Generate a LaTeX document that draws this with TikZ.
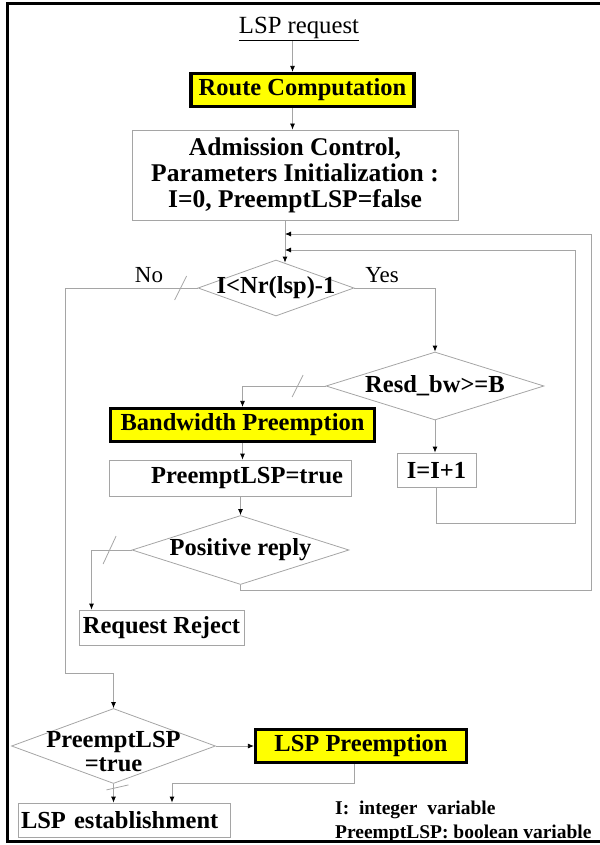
\documentclass[tikz,border=0pt]{standalone}
\usepackage{fontspec}
\setmainfont{Liberation Serif}
\usetikzlibrary{shapes.geometric,arrows.meta}
\definecolor{linegray}{RGB}{165,165,165}
\definecolor{hiyellow}{RGB}{255,255,0}
\begin{document}
\begin{tikzpicture}[
    x=1pt, y=-1pt,
    proc/.style={rectangle, draw=linegray, line width=0.8pt, inner sep=2pt, align=center, font=\bfseries\fontsize{24.5}{26}\selectfont},
    hilite/.style={rectangle, draw=black, fill=hiyellow, line width=3.2pt, inner sep=0pt, font=\bfseries\fontsize{24.5}{26}\selectfont},
    cond/.style={diamond, draw=linegray, line width=0.8pt, inner sep=0pt},
    condtext/.style={font=\bfseries\fontsize{24.5}{24}\selectfont, align=center},
    conn/.style={draw=linegray, line width=0.8pt, -{Latex[length=6pt,width=5pt,color=black]}},
    tick/.style={draw=linegray, line width=0.8pt}
  ]
  \useasboundingbox (0,0) rectangle (599,845);
  \draw[line width=3pt] (601,4) -- (7,4) -- (7,841) -- (601,841);

  \node[font=\fontsize{24.7}{26}\selectfont, inner sep=0pt] (req) at (299,29) {\underline{LSP request}};
  \node[hilite, minimum width=223, minimum height=33] (route) at (302.5,90) {Route Computation};
  \node[proc, minimum width=326, minimum height=90, font=\bfseries\fontsize{25.5}{26}\selectfont] (adm) at (295,175) {Admission Control,\\Parameters Initialization :\\I=0, PreemptLSP=false};
  \node[cond, minimum width=156, minimum height=56, label={[condtext]center:{I<Nr(lsp)-1}}] (d1) at (276,288) {};
  \node[font=\fontsize{23}{24}\selectfont] (no) at (149,275) {No};
  \node[font=\fontsize{23}{24}\selectfont] (yes) at (382,275) {Yes};
  \node[cond, minimum width=218, minimum height=68, label={[condtext]center:{Resd\_bw>=B}}] (d2) at (435,386) {};
  \node[hilite, minimum width=264, minimum height=33] (bw) at (242.5,425) {Bandwidth Preemption};
  \node[proc, minimum width=242, minimum height=36, text width=226pt, align=right] (flag) at (230,478) {PreemptLSP=true};
  \node[proc, minimum width=79, minimum height=34] (inc) at (436.5,470) {I=I+1};
  \node[cond, minimum width=217, minimum height=69, label={[condtext]center:{Positive reply}}] (pos) at (240.5,550) {};
  \node[proc, minimum width=165, minimum height=35] (rej) at (161.5,627.5) {Request Reject};
  \node[cond, minimum width=204, minimum height=75, label={[condtext, yshift=-6pt]center:{PreemptLSP\\=true}}] (d3) at (113.5,746) {};
  \node[hilite, minimum width=211, minimum height=33] (lsppre) at (361,746) {LSP Preemption};
  \node[proc, minimum width=212, minimum height=34, text width=206pt, align=left] (est) at (124,820) {LSP establishment};
  \node[anchor=north west, align=left, inner sep=0pt, font=\bfseries\fontsize{19.5}{24}\selectfont] (legend) at (335,801) {I:~ integer~ variable\\PreemptLSP: boolean variable};

  % junctions on the loop-back line
  \coordinate (j1) at (285,234);
  \coordinate (j2) at (285,250);

  \draw[conn] ([xshift=-10pt]route.north |- req.south) -- ([xshift=-10pt]route.north);
  \draw[conn] ([xshift=-10pt]route.south) -- ([xshift=-10pt]route.south |- adm.north);
  \draw[conn] (adm.south -| j1) -- ([xshift=9pt,yshift=-3pt]d1.north);
  \draw[conn] (d1.east) -| (d2.north);
  \draw[conn] (d1.west) -- ++(-132,0) |- ([yshift=35pt]d3.north) -- (d3.north);
  \draw[tick] ([xshift=-17pt]d1.west) ++(6,-12) -- ++(-12,24);
  \draw[conn] (d2.west) -| (bw.north);
  \draw[tick] ([xshift=-28pt]d2.west) ++(5.5,-11) -- ++(-11,22);
  \draw[conn] (d2.south) -- (d2.south |- inc.north);
  \draw[conn] (inc.south) -- ++(0,36) -| ([xshift=290pt]j2) -- (j2);
  \draw[conn] (bw.south) -- (bw.south |- flag.north);
  \draw[conn] (pos.north |- flag.south) -- (pos.north);
  \draw[conn] (pos.west) -| ([xshift=-70pt]rej.north);
  \draw[tick] ([xshift=-22pt]pos.west) ++(6.5,-14) -- ++(-13,28);
  \draw[conn] (pos.south) -- ++(0,5) -| ([xshift=306pt]j1) -- (j1);
  \draw[conn] (d3.east) -- (d3.east -| lsppre.west);
  \draw[conn] (d3.south) -- (d3.south |- est.north);
  \draw[tick] ([yshift=-4pt]d3.south) ++(-7,2) -- ++(22,-5);
  \draw[conn] ([xshift=-7pt]lsppre.south) -- ++(0,19) -| ([xshift=48pt]est.north);
\end{tikzpicture}
\end{document}
